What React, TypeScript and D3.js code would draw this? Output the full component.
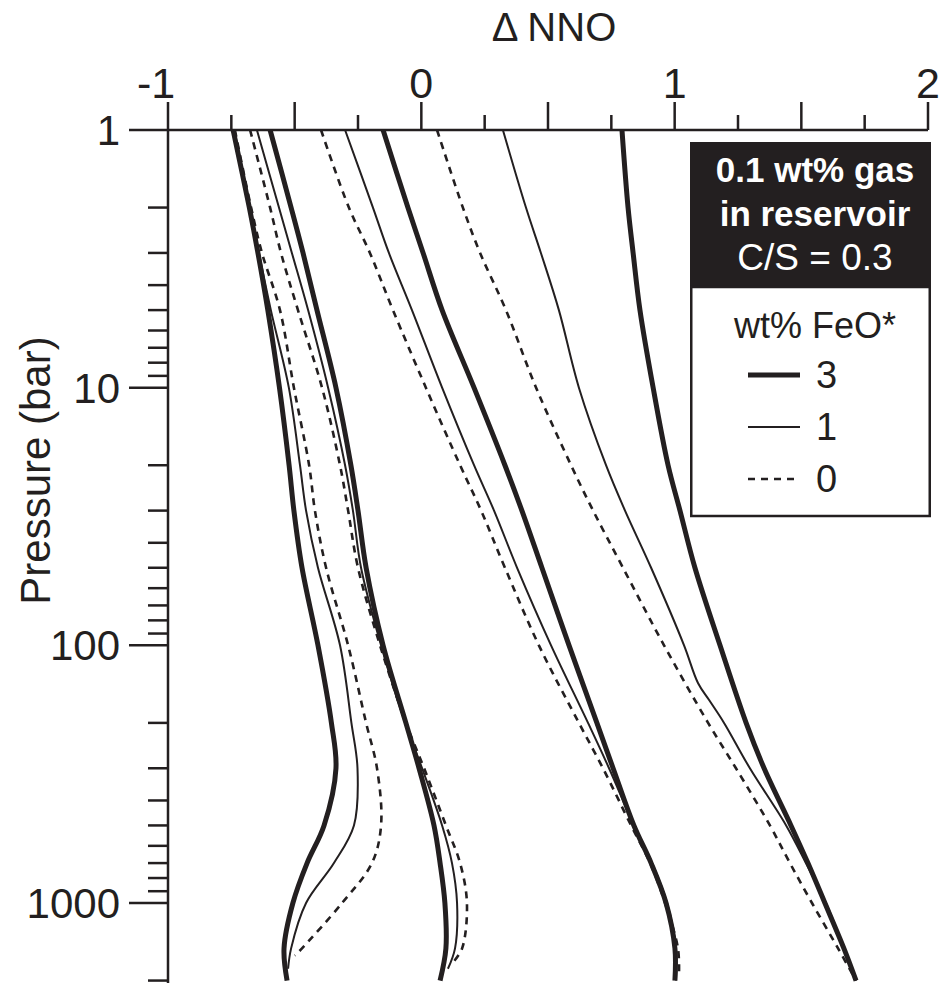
import React from 'react';
import * as d3 from 'd3';

// ---- Data (ΔNNO vs pressure in bar) ----
const P_STD = [1, 2, 3, 5, 10, 20, 30, 50, 100, 200, 300, 500, 700, 1000, 1500, 2000];
const P_G1_THIN = [1, 2, 3, 5, 10, 20, 30, 50, 100, 200, 300, 500, 700, 1000, 1500, 1800];
const P_G1_DASH = [1, 2, 3, 5, 10, 20, 30, 50, 100, 200, 300, 500, 700, 1000, 1500, 1600];
const P_G2_THIN = [1, 2, 3, 5, 10, 20, 30, 50, 100, 200, 300, 500, 700, 1000, 1500, 1800];
const P_G2_DASH = [1, 2, 3, 5, 10, 20, 30, 50, 100, 200, 300, 500, 700, 1000, 1500, 1700];
const P_G3_DASH = [1, 2, 3, 5, 10, 20, 30, 50, 100, 200, 300, 500, 700, 1000, 1500, 1900];
const P_G4_THIN = [1, 2, 3, 5, 10, 20, 30, 50, 100, 140, 163, 200, 300, 500, 700, 1000, 1500, 2000];

const g1Thick = [-0.743, -0.679, -0.645, -0.606, -0.560, -0.522, -0.503, -0.471, -0.408, -0.355, -0.337, -0.384, -0.451, -0.507, -0.542, -0.530];
const g1Thin = [-0.739, -0.676, -0.641, -0.594, -0.523, -0.479, -0.455, -0.408, -0.321, -0.276, -0.252, -0.266, -0.345, -0.455, -0.514, -0.526];
const g1Dash = [-0.736, -0.672, -0.629, -0.558, -0.503, -0.443, -0.420, -0.376, -0.289, -0.218, -0.175, -0.159, -0.195, -0.313, -0.471, -0.499];
const g2Thick = [-0.597, -0.514, -0.467, -0.412, -0.337, -0.278, -0.250, -0.218, -0.151, -0.061, -0.009, 0.050, 0.074, 0.093, 0.097, 0.074];
const g2Thin = [-0.649, -0.562, -0.511, -0.447, -0.368, -0.301, -0.270, -0.238, -0.159, -0.064, 0.003, 0.082, 0.121, 0.141, 0.133, 0.105];
const g2Dash = [-0.676, -0.597, -0.554, -0.487, -0.392, -0.321, -0.289, -0.250, -0.163, -0.061, 0.011, 0.097, 0.153, 0.180, 0.161, 0.125];
const g3Thick = [-0.151, -0.053, 0.007, 0.082, 0.208, 0.330, 0.397, 0.476, 0.583, 0.693, 0.757, 0.839, 0.907, 0.966, 1.001, 1.001];
const g3Thin = [-0.301, -0.191, -0.128, -0.037, 0.082, 0.208, 0.287, 0.378, 0.512, 0.658, 0.741, 0.839, 0.911, 0.970, 1.005, 1.005];
const g3Dash = [-0.396, -0.286, -0.203, -0.112, 0.018, 0.153, 0.236, 0.330, 0.464, 0.622, 0.717, 0.828, 0.903, 0.962, 1.013, 1.017];
const g4Thick = [0.792, 0.816, 0.836, 0.863, 0.915, 0.974, 1.021, 1.080, 1.179, 1.282, 1.353, 1.459, 1.526, 1.593, 1.668, 1.716];
const g4Thin = [0.322, 0.413, 0.472, 0.543, 0.622, 0.729, 0.804, 0.907, 1.037, 1.092, 1.136, 1.195, 1.297, 1.440, 1.518, 1.597, 1.668, 1.716];
const g4Dash = [0.062, 0.164, 0.232, 0.334, 0.453, 0.591, 0.678, 0.796, 0.958, 1.132, 1.242, 1.376, 1.455, 1.542, 1.645, 1.716];

const xTickLabels = [-1, 0, 1, 2];
const yTickLabels = [1, 10, 100, 1000];
const legendItems = [
  { label: '3', kind: 'thick' },
  { label: '1', kind: 'thin' },
  { label: '0', kind: 'dash' },
];
const headerLines = ['0.1 wt% gas', 'in reservoir', 'C/S = 0.3'];

// ---- Styling ----
const INK = '#231f20';
const FONT = '"Liberation Sans", Arial, Helvetica, sans-serif';
const STYLES: Record<string, { w: number; dash?: string }> = {
  thick: { w: 5 },
  thin: { w: 2 },
  dash: { w: 2.6, dash: '7 6' },
};

const series = [
  { p: P_G1_DASH, v: g1Dash, kind: 'dash' },
  { p: P_G2_DASH, v: g2Dash, kind: 'dash' },
  { p: P_G3_DASH, v: g3Dash, kind: 'dash' },
  { p: P_STD, v: g4Dash, kind: 'dash' },
  { p: P_G1_THIN, v: g1Thin, kind: 'thin' },
  { p: P_G2_THIN, v: g2Thin, kind: 'thin' },
  { p: P_STD, v: g3Thin, kind: 'thin' },
  { p: P_G4_THIN, v: g4Thin, kind: 'thin' },
  { p: P_STD, v: g1Thick, kind: 'thick' },
  { p: P_STD, v: g2Thick, kind: 'thick' },
  { p: P_STD, v: g3Thick, kind: 'thick' },
  { p: P_STD, v: g4Thick, kind: 'thick' },
];

export default function App() {
  const W = 942;
  const H = 983;
  const x = d3.scaleLinear().domain([-1, 2]).range([168, 928]);
  const y = d3.scaleLog().domain([1, 1000]).range([130, 903]);
  const yEnd = 2100;

  const line = d3
    .line<[number, number]>()
    .x((d) => x(d[1]))
    .y((d) => y(d[0]))
    .curve(d3.curveCatmullRom.alpha(0.5));

  const xTicks = d3.range(-1, 2.001, 0.25);
  const yMinor: number[] = [];
  for (let e = 0; e <= 3; e++) {
    for (let m = 1; m <= 9; m++) {
      const v = m * Math.pow(10, e);
      if (v <= 2000) yMinor.push(v);
    }
  }

  const x0 = x(-1);
  const y0 = y(1);

  // legend geometry
  const lgX = 690;
  const lgR = 931;
  const lgTop = 142;
  const lgMid = 287;
  const lgBot = 516;
  const lgCx = 815;

  return (
    <svg
      width={W}
      height={H}
      style={{ position: 'absolute', left: 0, top: 0, background: '#fff' }}
      fontFamily={FONT}
    >
      <rect x={0} y={0} width={W} height={H} fill="#fff" />
      {/* curves */}
      {series.map((s, i) => {
        const st = STYLES[s.kind];
        const pts: [number, number][] = s.p.map((p, j) => [p, s.v[j]]);
        return (
          <path
            key={i}
            d={line(pts) || ''}
            fill="none"
            stroke={INK}
            strokeWidth={st.w}
            strokeDasharray={st.dash}
            strokeLinecap="butt"
            strokeLinejoin="round"
          />
        );
      })}

      {/* y axis */}
      <line x1={x0} x2={x0} y1={y0} y2={y(yEnd)} stroke={INK} strokeWidth={2.5} />
      {yMinor.map((v) => {
        const major = Math.log10(v) % 1 === 0;
        return (
          <line
            key={'yt' + v}
            x1={x0 - (major ? 39 : 20)}
            x2={x0}
            y1={y(v)}
            y2={y(v)}
            stroke={INK}
            strokeWidth={2.5}
          />
        );
      })}
      {yTickLabels.map((v) => (
        <text
          key={'yl' + v}
          x={x0 - 48}
          y={y(v) + 15}
          textAnchor="end"
          fontSize={42}
          fill={INK}
        >
          {v}
        </text>
      ))}
      <text
        transform={`translate(50, ${(y(1) + y(1000)) / 2 - 46}) rotate(-90)`}
        textAnchor="middle"
        fontSize={42}
        fill={INK}
      >
        Pressure (bar)
      </text>

      {/* x axis (top) */}
      <line x1={x0} x2={x(2)} y1={y0} y2={y0} stroke={INK} strokeWidth={2.5} />
      {xTicks.map((v) => {
        const major = Math.abs(v * 2 - Math.round(v * 2)) < 1e-6;
        return (
          <line
            key={'xt' + v}
            x1={x(v)}
            x2={x(v)}
            y1={y0}
            y2={y0 - (major ? 28 : 15)}
            stroke={INK}
            strokeWidth={2.5}
          />
        );
      })}
      {xTickLabels.map((v) => (
        <text
          key={'xl' + v}
          x={x(v) + (v < 0 ? -12 : 0)}
          y={98}
          textAnchor="middle"
          fontSize={43}
          fill={INK}
        >
          {v}
        </text>
      ))}
      <text x={(x(0) + x(1)) / 2 + 6} y={41} textAnchor="middle" fontSize={40} fill={INK}>
        Δ NNO
      </text>

      {/* legend */}
      <rect x={lgX} y={lgTop} width={lgR - lgX} height={lgMid - lgTop} fill={INK} />
      <rect
        x={lgX + 1.25}
        y={lgMid}
        width={lgR - lgX - 2.5}
        height={lgBot - lgMid}
        fill="#fff"
        stroke={INK}
        strokeWidth={2.5}
      />
      {headerLines.map((t, i) => (
        <text
          key={'h' + i}
          x={lgCx}
          y={182 + i * 44}
          textAnchor="middle"
          fontSize={i < 2 ? 35 : 37}
          fontWeight={i < 2 ? 'bold' : 'normal'}
          fill="#fff"
        >
          {t}
        </text>
      ))}
      <text x={lgCx} y={338} textAnchor="middle" fontSize={36} fill={INK}>
        wt% FeO*
      </text>
      {legendItems.map((it, i) => {
        const st = STYLES[it.kind];
        const ly = 375 + i * 52;
        return (
          <g key={'lg' + i}>
            <line
              x1={748}
              x2={800}
              y1={ly}
              y2={ly}
              stroke={INK}
              strokeWidth={st.w}
              strokeDasharray={st.dash}
            />
            <text x={816} y={ly + 13} fontSize={38} fill={INK}>
              {it.label}
            </text>
          </g>
        );
      })}
    </svg>
  );
}
